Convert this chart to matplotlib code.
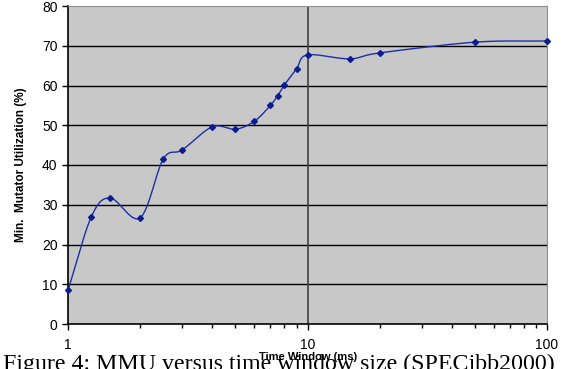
import numpy as np
import matplotlib.pyplot as plt
from matplotlib.ticker import FixedLocator, NullFormatter

# MMU curve for SPECjbb2000
window_ms = [1, 1.25, 1.5, 2, 2.5, 3, 4, 5, 6, 7, 7.5, 8, 9, 10, 15, 20, 50, 100]
mmu_pct = [8.5, 26.9, 31.7, 26.7, 41.5, 43.8, 49.6, 49.0, 51.0, 55.0, 57.4,
           60.1, 64.2, 67.7, 66.7, 68.2, 70.9, 71.2]

y_ticks = [0, 10, 20, 30, 40, 50, 60, 70, 80]
x_ticks = [1, 10, 100]
x_tick_labels = ["1", "10", "100"]


def smooth(xs, ys, n=30):
    # Catmull-Rom through the points, in log-x space (like a spreadsheet smoothed line)
    lx = np.log10(xs)
    ys = np.asarray(ys, float)
    px = np.concatenate([[2 * lx[0] - lx[1]], lx, [2 * lx[-1] - lx[-2]]])
    py = np.concatenate([[2 * ys[0] - ys[1]], ys, [2 * ys[-1] - ys[-2]]])
    out_x, out_y = [], []
    for i in range(1, len(px) - 2):
        t = np.linspace(0, 1, n, endpoint=False)
        for p, out in ((px, out_x), (py, out_y)):
            p0, p1, p2, p3 = p[i - 1], p[i], p[i + 1], p[i + 2]
            m1 = (p2 - p0) / 2
            m2 = (p3 - p1) / 2
            h00 = 2 * t**3 - 3 * t**2 + 1
            h10 = t**3 - 2 * t**2 + t
            h01 = -2 * t**3 + 3 * t**2
            h11 = t**3 - t**2
            out.extend(h00 * p1 + h10 * m1 + h01 * p2 + h11 * m2)
    out_x.append(lx[-1])
    out_y.append(ys[-1])
    return 10 ** np.array(out_x), np.array(out_y)


fig = plt.figure(figsize=(5.71, 3.69), dpi=100)
ax = fig.add_axes([68 / 571, 45 / 369, 479 / 571, 318 / 369])
ax.set_facecolor("#c8c8c8")

ax.set_xscale("log")
ax.set_xlim(1, 100)
ax.set_ylim(0, 80)

for y in y_ticks[1:-1]:
    ax.axhline(y, color="black", lw=1.0, zorder=1)
ax.axvline(10, color="#404040", lw=1.2, zorder=1)

sx, sy = smooth(window_ms, mmu_pct)
ax.plot(sx, sy, color="#1c2fa8", lw=1.0, zorder=3, clip_on=False)
ax.plot(window_ms, mmu_pct, ls="none", marker="D", ms=3, color="#0a1c90",
        zorder=4, clip_on=False)

ax.set_yticks(y_ticks)
ax.xaxis.set_major_locator(FixedLocator(x_ticks))
ax.set_xticklabels(x_tick_labels)
ax.xaxis.set_minor_formatter(NullFormatter())
ax.tick_params(axis="both", which="major", labelsize=10, length=4, width=1,
               direction="out", colors="black")
ax.tick_params(axis="x", which="minor", length=3, width=1, direction="out")
ax.tick_params(axis="x", pad=6)
for lab in ax.get_xticklabels() + ax.get_yticklabels():
    lab.set_family("Liberation Sans")

ax.spines["left"].set_color("black")
ax.spines["bottom"].set_color("black")
ax.spines["left"].set_linewidth(1.2)
ax.spines["bottom"].set_linewidth(1.2)
ax.spines["top"].set_color("#909090")
ax.spines["right"].set_color("#909090")

ax.set_ylabel("Min.  Mutator Utilization (%)", fontsize=8.5, fontweight="bold",
              family="Liberation Sans", labelpad=11)

fig.text(308 / 571, 1 - 357 / 369, "Time Window (ms)", fontsize=8,
         fontweight="bold", family="Liberation Sans", ha="center", va="center")
fig.text(279 / 571, 1 - 370 / 369,
         "Figure 4: MMU versus time window size (SPECjbb2000)",
         fontsize=17.2, family="Liberation Serif", ha="center", va="baseline")

fig.savefig("out.png", dpi=100)
